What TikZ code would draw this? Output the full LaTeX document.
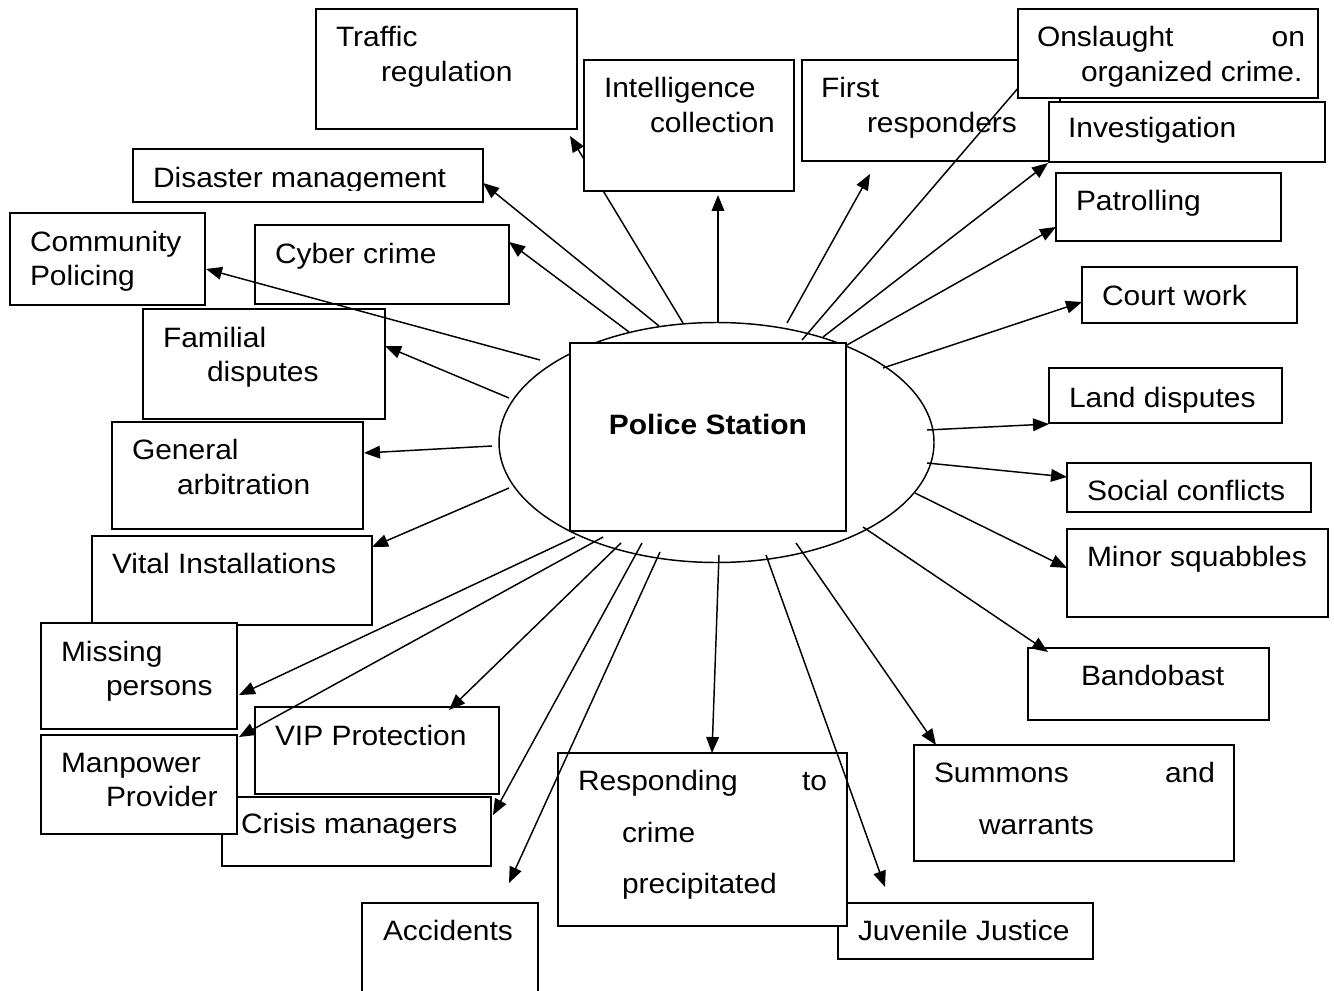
\documentclass[tikz,border=0pt]{standalone}
\usepackage{fontspec}
\setmainfont{Liberation Sans}[FakeStretch=1.07]
\usetikzlibrary{arrows.meta,shapes.geometric}
\newcommand{\pbox}[5]{\node[box, minimum width={(#4-#2)*0.75pt}, minimum height={(#5-#3)*0.75pt}] (#1) at ({(#2+#4)/2},{(#3+#5)/2}) {};}
\begin{document}
\begin{tikzpicture}[x=0.75pt,y=-0.75pt,
  box/.style={draw, line width=1.2pt, fill=white, rectangle, inner sep=0pt, outer sep=0pt},
  lbl/.style={inner sep=0pt, outer sep=0pt, anchor=base west, font=\fontsize{21}{25}\selectfont},
  lblr/.style={lbl, anchor=base east},
  ln/.style={line width=1.1pt},
  arr/.style={line width=1.1pt, -{Triangle[length=12pt,width=9.5pt]}}]
\useasboundingbox (0,0) rectangle (1334,991);

% connector end points
\coordinate (sTraffic) at (683,323);  \coordinate (eTraffic) at (570,136);
\coordinate (sIntel) at (718,323);    \coordinate (eIntel) at (718,195);
\coordinate (sFirst) at (787,323);    \coordinate (eFirst) at (870,174);
\coordinate (sOnsl) at (802,340);     \coordinate (eOnsl) at (1025,80);
\coordinate (sInvest) at (823,337);   \coordinate (eInvest) at (1048,163);
\coordinate (sPatrol) at (847,345);   \coordinate (ePatrol) at (1056,227);
\coordinate (sCourt) at (883,368);    \coordinate (eCourt) at (1082,302);
\coordinate (sLand) at (927,430);     \coordinate (eLand) at (1049,424);
\coordinate (sSocial) at (927,463);   \coordinate (eSocial) at (1067,477);
\coordinate (sMinor) at (915,493);    \coordinate (eMinor) at (1067,568);
\coordinate (sBando) at (863,527);    \coordinate (eBando) at (1048,652);
\coordinate (sSummons) at (796,543);  \coordinate (eSummons) at (936,745);
\coordinate (sJuven) at (766,555);    \coordinate (eJuven) at (885,887);
\coordinate (sRespond) at (719,555);  \coordinate (eRespond) at (712,753);
\coordinate (sAccid) at (660,552);    \coordinate (eAccid) at (509,883);
\coordinate (sCrisis) at (642,543);   \coordinate (eCrisis) at (493,815);
\coordinate (sVip) at (621,543);      \coordinate (eVip) at (449,710);
\coordinate (sManp) at (603,537);     \coordinate (eManp) at (239,737);
\coordinate (sMissing) at (575,537);  \coordinate (eMissing) at (239,695);
\coordinate (sVital) at (509,488);    \coordinate (eVital) at (372,547);
\coordinate (sGeneral) at (492,446);  \coordinate (eGeneral) at (364,453);
\coordinate (sFamilial) at (509,398); \coordinate (eFamilial) at (385,346);
\coordinate (sCommun) at (540,360);   \coordinate (eCommun) at (206,269);
\coordinate (sCyber) at (629,332);    \coordinate (eCyber) at (509,242);
\coordinate (sDisaster) at (659,326); \coordinate (eDisaster) at (483,183);

% line passing behind the intelligence box
\draw[arr] (sTraffic) -- (eTraffic);

% centre
\node[draw, ellipse, line width=1.1pt, inner sep=0pt, minimum width={435*0.75pt}, minimum height={240*0.75pt}] (ell) at (716.5,442.5) {};
\pbox{station}{570}{343}{846}{531}
\node[inner sep=0pt, anchor=base, font=\fontsize{21}{25}\selectfont\bfseries] (tStation) at (708,434) {Police Station};

% boxes
\pbox{traffic}{316}{9}{577}{129}
\pbox{intel}{584}{60}{794}{191}
\pbox{first}{802}{60}{1060}{161}
\draw[ln] (sOnsl) -- (eOnsl);
\pbox{onsl}{1018}{9}{1318}{98}
\pbox{invest}{1049}{102}{1325}{162}
\pbox{patrol}{1056}{173}{1281}{241}
\pbox{court}{1082}{267}{1297}{323}
\pbox{land}{1049}{368}{1282}{423}
\pbox{social}{1067}{463}{1311}{512}
\pbox{minor}{1067}{529}{1328}{617}
\pbox{bando}{1028}{648}{1269}{720}
\pbox{summons}{914}{745}{1234}{861}
\pbox{juven}{838}{903}{1093}{959}
\pbox{respond}{558}{753}{847}{926}
\pbox{accid}{362}{903}{538}{1000}
\pbox{crisis}{222}{797}{491}{866}
\pbox{vip}{255}{707}{499}{794}
\pbox{manp}{41}{735}{237}{834}
\pbox{vital}{92}{536}{372}{625}
\pbox{missing}{41}{623}{237}{729}
\pbox{general}{112}{422}{363}{529}
\pbox{familial}{143}{309}{385}{419}
\pbox{commun}{10}{213}{205}{305}
\pbox{cyber}{255}{225}{509}{304}
\pbox{disaster}{133}{149}{483}{202}

% texts
\node[lbl] (tTraffic1) at (336,47) {Traffic};
\node[lbl] (tTraffic2) at (381,82) {regulation};
\node[lbl] (tIntel1) at (604,98) {Intelligence};
\node[lbl] (tIntel2) at (650,133) {collection};
\node[lbl] (tFirst1) at (821,98) {First};
\node[lbl] (tFirst2) at (867,133) {responders};
\node[lbl] (tOnsl1) at (1037,47) {Onslaught};
\node[lblr] (tOnsl2) at (1305,47) {on};
\node[lbl] (tOnsl3) at (1081,82) {organized crime.};
\node[lbl] (tInvest) at (1068,138) {Investigation};
\node[lbl] (tPatrol) at (1076,211) {Patrolling};
\node[lbl] (tCourt) at (1102,305) {Court work};
\node[lbl] (tLand) at (1069,407) {Land disputes};
\node[lbl] (tSocial) at (1087,500) {Social conflicts};
\node[lbl] (tMinor) at (1087,566) {Minor squabbles};
\node[lbl] (tBando) at (1081,685) {Bandobast};
\node[lbl] (tSummons1) at (934,782) {Summons};
\node[lblr] (tSummons2) at (1215,782) {and};
\node[lbl] (tSummons3) at (979,834) {warrants};
\node[lbl] (tJuven) at (858,940) {Juvenile Justice};
\node[lbl] (tRespond1) at (578,790) {Responding};
\node[lblr] (tRespond2) at (827,790) {to};
\node[lbl] (tRespond3) at (622,842) {crime};
\node[lbl] (tRespond4) at (622,893) {precipitated};
\node[lbl] (tAccid) at (383,940) {Accidents};
\node[lbl] (tCrisis) at (241,833) {Crisis managers};
\node[lbl] (tVip) at (275,745) {VIP Protection};
\node[lbl] (tManp1) at (61,772) {Manpower};
\node[lbl] (tManp2) at (106,806) {Provider};
\node[lbl] (tMissing1) at (61,661) {Missing};
\node[lbl] (tMissing2) at (106,695) {persons};
\node[lbl] (tVital) at (112,573) {Vital Installations};
\node[lbl] (tGeneral1) at (132,459) {General};
\node[lbl] (tGeneral2) at (177,494) {arbitration};
\node[lbl] (tFamilial1) at (163,347) {Familial};
\node[lbl] (tFamilial2) at (207,381) {disputes};
\node[lbl] (tCommun1) at (30,252) {Community};
\node[lbl] (tCommun2) at (30,286) {Policing};
\node[lbl] (tCyber) at (275,263) {Cyber crime};
\begin{scope}
\clip (134,150) rectangle (482,191);
\node[lbl] (tDisaster) at (153,188) {Disaster management};
\end{scope}

% connectors
\draw[arr] (sIntel) -- (eIntel);
\draw[arr] (sFirst) -- (eFirst);
\draw[arr] (sInvest) -- (eInvest);
\draw[arr] (sPatrol) -- (ePatrol);
\draw[arr] (sCourt) -- (eCourt);
\draw[arr] (sLand) -- (eLand);
\draw[arr] (sSocial) -- (eSocial);
\draw[arr] (sMinor) -- (eMinor);
\draw[arr] (sBando) -- (eBando);
\draw[arr] (sSummons) -- (eSummons);
\draw[arr] (sJuven) -- (eJuven);
\draw[arr] (sRespond) -- (eRespond);
\draw[arr] (sAccid) -- (eAccid);
\draw[arr] (sCrisis) -- (eCrisis);
\draw[arr] (sVip) -- (eVip);
\draw[arr] (sManp) -- (eManp);
\draw[arr] (sMissing) -- (eMissing);
\draw[arr] (sVital) -- (eVital);
\draw[arr] (sGeneral) -- (eGeneral);
\draw[arr] (sFamilial) -- (eFamilial);
\draw[arr] (sCommun) -- (eCommun);
\draw[arr] (sCyber) -- (eCyber);
\draw[arr] (sDisaster) -- (eDisaster);
\end{tikzpicture}
\end{document}
